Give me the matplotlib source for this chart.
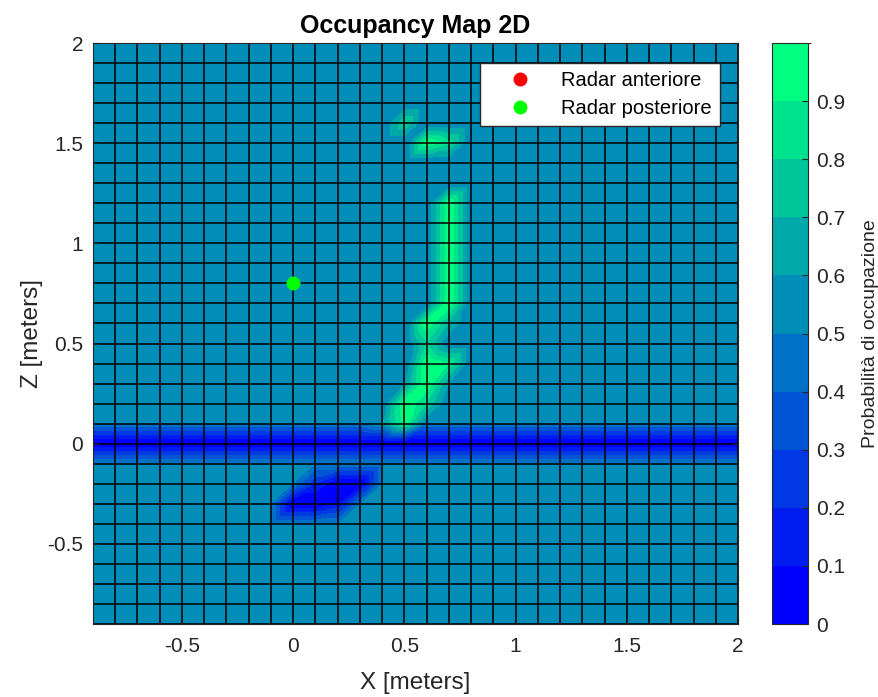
import numpy as np
import matplotlib
matplotlib.use('Agg')
import matplotlib.pyplot as plt
import matplotlib.tri as mtri
from matplotlib.colors import ListedColormap, BoundaryNorm

plt.rcParams['font.family'] = ['Liberation Sans', 'DejaVu Sans']

# grid vertices (meters)
x_grid = np.round(np.arange(-0.9, 2.05, 0.1), 1)
z_grid = np.round(np.arange(-0.9, 2.05, 0.1), 1)

base_prob = 0.5
floor_z = 0.0
floor_prob = 0.0

# cells that differ from the base probability
cell_x = [0.5, 0.6, 0.7,
          0.7, 0.7, 0.7, 0.7, 0.7, 0.7,
          0.6, 0.7, 0.6,
          0.6, 0.7, 0.6, 0.7, 0.5,
          0.5, 0.6, 0.5, 0.4,
          0.0, 0.1, 0.2, 0.1, 0.2, 0.3]
cell_z = [1.6, 1.5, 1.5,
          1.2, 1.1, 1.0, 0.9, 0.8, 0.7,
          0.6, 0.6, 0.5,
          0.4, 0.4, 0.3, 0.3, 0.3,
          0.2, 0.2, 0.1, 0.1,
          -0.3, -0.3, -0.3, -0.2, -0.2, -0.2]
cell_p = [0.8, 1.0, 0.85,
          1.0, 1.0, 1.0, 1.0, 1.0, 1.0,
          1.0, 0.7, 0.8,
          1.0, 0.9, 1.0, 0.6, 0.6,
          1.0, 0.8, 0.95, 0.6,
          0.0, 0.0, 0.1, 0.2, 0.0, 0.0]

radar_front = (0.0, 0.0)
radar_back = (0.0, 0.8)

nx, nz = len(x_grid), len(z_grid)
P = np.full((nz, nx), base_prob)
P[np.argmin(abs(z_grid - floor_z)), :] = floor_prob
for xv, zv, pv in zip(cell_x, cell_z, cell_p):
    P[np.argmin(abs(z_grid - zv)), np.argmin(abs(x_grid - xv))] = pv

# triangulate each quad along the lower-left -> upper-right diagonal
tris = []
for j in range(nz - 1):
    for i in range(nx - 1):
        a = j * nx + i
        b = a + 1
        c = a + nx + 1
        d = a + nx
        tris.append([a, b, c])
        tris.append([a, c, d])
X, Z = np.meshgrid(x_grid, z_grid)
tri = mtri.Triangulation(X.ravel(), Z.ravel(), np.array(tris))
interp = mtri.LinearTriInterpolator(tri, P.ravel())
xf = np.linspace(x_grid[0], x_grid[-1], 1300)
zf = np.linspace(z_grid[0], z_grid[-1], 1300)
XF, ZF = np.meshgrid(xf, zf)
PF = interp(XF, ZF).filled(base_prob)
PF = np.round(PF, 6)

g = np.linspace(0, 1, 10)
cmap = ListedColormap(np.c_[np.zeros(10), g, 1 - g / 2])
norm = BoundaryNorm(np.round(np.arange(0, 1.05, 0.1), 1), cmap.N)

dark = (0.15, 0.15, 0.15)
fig = plt.figure(figsize=(8.79, 6.97), dpi=100)
ax = fig.add_axes([0.1058, 0.1047, 0.7338, 0.8336])
im = ax.imshow(PF, extent=[x_grid[0], x_grid[-1], z_grid[0], z_grid[-1]],
               origin='lower', aspect='auto', cmap=cmap, norm=norm,
               interpolation='nearest', zorder=0)
ax.vlines(x_grid, z_grid[0], z_grid[-1], colors='k', lw=1.1, zorder=1)
ax.hlines(z_grid, x_grid[0], x_grid[-1], colors='k', lw=1.1, zorder=1)

ax.plot(*radar_front, 'o', color='r', ms=9, label='Radar anteriore', zorder=-1)
ax.plot(*radar_back, 'o', color=(0, 1, 0), ms=9, label='Radar posteriore', zorder=5)

ax.set_xlim(x_grid[0], x_grid[-1])
ax.set_ylim(z_grid[0], z_grid[-1])
ax.set_xticks([-0.5, 0, 0.5, 1, 1.5, 2])
ax.set_xticklabels(['-0.5', '0', '0.5', '1', '1.5', '2'])
ax.set_yticks([-0.5, 0, 0.5, 1, 1.5, 2])
ax.set_yticklabels(['-0.5', '0', '0.5', '1', '1.5', '2'])
ax.tick_params(direction='in', top=True, right=True, length=4,
               labelsize=15, colors=dark, labelcolor=dark)
ax.tick_params(axis='x', pad=9)
ax.tick_params(axis='y', pad=7)
for s in ax.spines.values():
    s.set_color(dark)
ax.set_xlabel('X [meters]', fontsize=17.5, color=dark, labelpad=12)
ax.set_ylabel('Z [meters]', fontsize=17.5, color=dark, labelpad=3)
ax.set_title('Occupancy Map 2D', fontsize=18, fontweight='bold', pad=7)

leg = ax.legend(loc='upper right', bbox_to_anchor=(0.972, 0.9656),
                borderaxespad=0, fancybox=False, framealpha=1,
                edgecolor=dark, fontsize=14.5, handlelength=3.2,
                handletextpad=0.45, borderpad=0.4, labelspacing=0.45)
leg.get_frame().set_linewidth(1.0)

cax = fig.add_axes([0.8783, 0.1047, 0.041, 0.8336])
cb = fig.colorbar(im, cax=cax, ticks=np.round(np.arange(0, 0.95, 0.1), 1))
cb.ax.set_yticklabels(['0', '0.1', '0.2', '0.3', '0.4', '0.5', '0.6', '0.7', '0.8', '0.9'])
cb.ax.tick_params(direction='in', length=4, labelsize=15, colors=dark,
                  labelcolor=dark, pad=6)
cb.outline.set_edgecolor(dark)
cb.set_label('Probabilità di occupazione', fontsize=14, color=dark, labelpad=12)

fig.savefig('out.png', dpi=100)
